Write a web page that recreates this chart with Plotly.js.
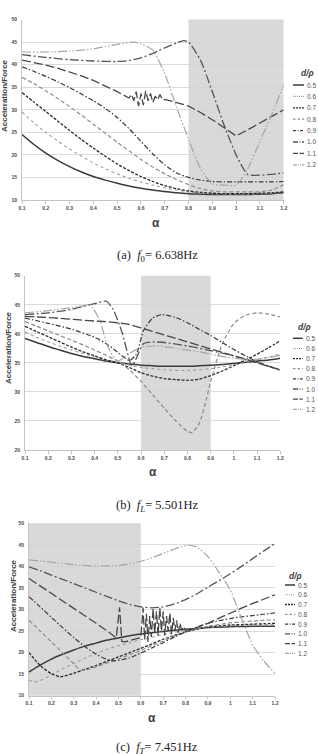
<!DOCTYPE html>
<html>
<head>
<meta charset="utf-8">
<script src="https://cdn.plot.ly/plotly-3.0.1.min.js"></script>
<style>
  html, body { margin: 0; padding: 0; background: #fff; }
  #chart { width: 318px; height: 755px; }
</style>
</head>
<body>
<div id="chart"></div>
<script>
// ---- common alpha grid (step 0.05) ----
const GRID = [0.1,0.15,0.2,0.25,0.3,0.35,0.4,0.45,0.5,0.55,0.6,0.65,0.7,0.75,0.8,0.85,0.9,0.95,1.0,1.05,1.1,1.15,1.2];

const RATIOS = ['0.5','0.6','0.7','0.8','0.9','1.0','1.1','1.2'];
const X_TICKS = [0.1,0.2,0.3,0.4,0.5,0.6,0.7,0.8,0.9,1.0,1.1,1.2];
const X_TICK_TEXT = ['0.1','0.2','0.3','0.4','0.5','0.6','0.7','0.8','0.9','1','1.1','1.2'];

// ---- (a) f0 = 6.638 Hz ----
const A05 = [24.5,22.3,20.4,18.8,17.4,16.2,15.2,14.4,13.7,13.1,12.6,12.2,11.9,11.6,11.4,11.3,11.2,11.2,11.2,11.2,11.3,11.4,11.6];
const A06 = [29.5,27.1,25.0,23.1,21.3,19.7,18.2,16.9,15.8,14.8,14.0,13.3,12.7,12.2,11.8,11.5,11.4,11.3,11.3,11.3,11.4,11.5,11.7];
const A07 = [33.8,31.7,29.6,27.5,25.4,23.4,21.5,19.7,18.0,16.5,15.2,14.1,13.2,12.5,12.0,11.7,11.5,11.4,11.4,11.4,11.5,11.6,11.8];
const A08 = [37.2,35.8,34.2,32.5,30.7,28.8,26.8,24.8,22.8,20.9,19.0,17.3,15.8,14.5,13.4,12.5,12.0,11.8,11.8,11.8,11.8,12.2,13.4];
const A09 = [39.5,38.5,37.4,36.2,34.9,33.5,32.0,30.3,28.3,25.8,23.0,20.2,17.8,16.0,15.0,14.4,14.1,14.0,14.0,14.0,14.0,14.0,14.1];
const A10_X = [0.1,0.2,0.3,0.4,0.5,0.55,0.6,0.65,0.7,0.75,0.78,0.8,0.85,0.9,0.95,1.0,1.03,1.05,1.1,1.15,1.2];
const A10 = [42.2,41.6,41.1,40.8,40.7,40.9,41.5,42.5,43.7,44.8,45.3,45.0,41.0,34.0,26.5,20.0,17.0,15.6,15.5,15.7,16.0];
const A11_X = [0.1,0.15,0.2,0.25,0.3,0.35,0.4,0.45,0.5,0.55,0.56,0.57,0.58,0.59,0.6,0.61,0.62,0.63,0.64,0.65,0.66,0.67,0.68,0.69,0.7,0.75,0.8,0.85,0.9,0.95,1.0,1.05,1.1,1.15,1.2];
const A11 = [41.0,40.5,39.9,39.2,38.4,37.5,36.5,35.3,34.0,32.6,33.4,32.0,34.0,30.8,33.6,31.0,34.2,32.0,33.6,31.6,33.0,32.2,33.4,32.2,32.3,31.6,30.8,29.4,27.8,26.0,24.2,25.6,27.1,28.6,30.0];
const A12_X = [0.1,0.2,0.3,0.4,0.45,0.5,0.57,0.6,0.65,0.7,0.75,0.8,0.85,0.9,0.95,1.0,1.05,1.1,1.15,1.2];
const A12 = [42.8,42.8,43.0,43.5,44.0,44.5,45.0,44.6,43.2,38.0,30.5,23.5,17.0,13.6,13.3,13.3,17.0,23.0,29.0,35.5];
const SHADE_A = [0.8, 1.2];

// ---- (b) fL = 5.501 Hz ----
const B05 = [39.2,38.5,37.8,37.2,36.6,36.1,35.7,35.3,35.0,34.8,34.6,34.5,34.4,34.4,34.4,34.5,34.6,34.7,34.9,35.1,35.3,35.5,35.8];
const B06 = [40.3,39.4,38.6,37.9,37.2,36.6,36.0,35.5,35.1,34.6,34.2,34.0,33.8,33.7,33.7,33.8,34.0,34.3,34.7,35.1,35.6,36.0,36.5];
const B07 = [41.3,40.4,39.5,38.6,37.7,36.9,36.2,35.5,35.0,34.2,33.3,32.7,32.3,32.1,32.0,32.2,32.8,33.6,34.5,35.5,36.5,37.6,38.8];
const B08_X = [0.1,0.15,0.2,0.25,0.3,0.35,0.4,0.45,0.5,0.55,0.6,0.65,0.7,0.75,0.8,0.82,0.85,0.88,0.9,0.95,1.0,1.05,1.1,1.15,1.2];
const B08 = [42.1,41.3,40.5,39.7,38.9,38.1,37.2,36.3,35.3,33.8,31.8,29.5,27.2,25.0,23.2,23.0,24.5,28.5,31.8,38.3,41.8,43.2,43.6,43.4,42.9];
const B09_X = [0.1,0.2,0.3,0.4,0.45,0.5,0.55,0.58,0.61,0.65,0.69,0.75,0.8,0.85,0.9,0.95,1.0,1.05,1.1,1.15,1.2];
const B09 = [42.7,41.8,40.8,39.4,38.3,36.8,35.4,36.5,40.5,42.7,43.3,42.8,41.9,40.8,39.7,38.5,37.3,36.2,35.2,34.4,33.8];
const B10_X = [0.1,0.2,0.3,0.35,0.4,0.45,0.48,0.52,0.56,0.58,0.61,0.65,0.7,0.8,0.9,1.0,1.1,1.2];
const B10 = [43.3,43.6,44.2,44.7,45.2,45.6,44.2,40.0,34.5,35.8,38.3,38.6,38.5,37.9,37.1,36.2,35.1,33.7];
const B11 = [43.0,42.9,42.8,42.65,42.5,42.35,42.2,42.1,41.9,41.6,41.0,40.4,39.8,39.2,38.6,38.0,37.4,36.8,36.2,35.6,35.0,34.4,33.8];
const B12_X = [0.1,0.2,0.3,0.35,0.38,0.42,0.46,0.5,0.55,0.6,0.65,0.7,0.75,0.8,0.85,0.9,0.95,1.0,1.05,1.1,1.15,1.2];
const B12 = [43.6,44.0,44.5,44.8,45.0,42.5,37.5,35.3,36.6,37.7,37.9,37.8,37.5,37.2,36.9,36.5,36.1,35.8,35.6,35.6,35.9,36.3];
const SHADE_B = [0.6, 0.9];

// ---- (c) fT = 7.451 Hz ----
const C05 = [15.5,17.1,18.5,19.6,20.6,21.5,22.2,22.9,23.4,23.9,24.3,24.6,24.9,25.2,25.4,25.6,25.8,25.9,26.0,26.05,26.1,26.1,26.1];
const C06_X = [0.1,0.125,0.15,0.2,0.25,0.3,0.35,0.4,0.45,0.5,0.55,0.6,0.65,0.7,0.75,0.8,0.85,0.9,0.95,1.0,1.05,1.1,1.15,1.2];
const C06 = [13.6,13.2,13.5,14.8,16.2,17.5,18.7,19.8,20.8,21.6,22.3,23.0,23.6,24.2,24.7,25.2,25.5,25.8,26.0,26.2,26.3,26.4,26.5,26.5];
const C07_X = [0.1,0.15,0.2,0.24,0.3,0.35,0.4,0.45,0.5,0.55,0.6,0.65,0.7,0.75,0.8,0.85,0.9,0.95,1.0,1.05,1.1,1.15,1.2];
const C07 = [20.0,17.0,15.1,14.4,15.2,16.1,17.0,18.0,19.0,20.0,21.0,22.0,23.1,24.0,24.8,25.4,25.9,26.2,26.4,26.5,26.6,26.7,26.8];
const C08_X = [0.1,0.15,0.2,0.25,0.3,0.33,0.37,0.4,0.45,0.5,0.55,0.6,0.65,0.7,0.75,0.8,0.85,0.9,0.95,1.0,1.05,1.1,1.15,1.2];
const C08 = [27.5,25.0,22.5,20.0,17.4,15.9,16.2,16.7,17.6,18.5,19.5,20.5,21.6,22.7,23.8,24.8,25.5,26.1,26.5,26.9,27.1,27.3,27.5,27.6];
const C09_X = [0.1,0.15,0.2,0.25,0.3,0.35,0.4,0.45,0.48,0.52,0.55,0.6,0.65,0.7,0.75,0.8,0.85,0.9,0.95,1.0,1.05,1.1,1.15,1.2];
const C09 = [33.0,30.6,28.2,25.8,23.5,21.4,19.6,18.4,18.1,18.4,18.8,19.9,21.1,22.3,23.6,24.8,25.9,26.8,27.4,27.9,28.3,28.6,28.9,29.2];
const C10 = [39.9,39.0,38.0,37.0,36.0,35.0,34.0,33.0,32.0,31.2,30.6,30.4,30.6,31.3,32.3,33.6,35.2,36.7,38.3,40.0,41.8,43.6,45.3];
const C11_X = [0.1,0.15,0.2,0.25,0.3,0.35,0.4,0.45,0.49,0.505,0.515,0.53,0.55,0.6,0.61,0.617,0.625,0.632,0.64,0.647,0.655,0.662,0.67,0.677,0.685,0.692,0.7,0.707,0.715,0.722,0.73,0.737,0.745,0.752,0.76,0.767,0.775,0.782,0.79,0.8,0.85,0.9,0.95,1.0,1.05,1.1,1.15,1.2];
const C11 = [37.2,35.5,33.8,32.1,30.4,28.6,26.8,25.0,23.4,30.5,22.6,22.5,22.8,23.5,30.4,23.0,29.0,22.5,28.5,23.6,30.2,24.5,29.6,24.0,30.4,25.0,29.5,24.0,28.5,25.0,29.2,24.2,28.0,25.0,27.5,24.6,26.8,25.2,26.0,25.2,25.8,26.8,28.0,29.2,30.3,31.4,32.4,33.4];
const C12_X = [0.1,0.2,0.3,0.4,0.5,0.55,0.6,0.65,0.7,0.75,0.81,0.85,0.9,0.95,1.0,1.05,1.1,1.15,1.2];
const C12 = [41.5,41.0,40.4,40.1,40.2,40.6,41.2,42.0,43.0,44.0,44.9,44.5,42.3,38.6,34.5,28.0,21.8,18.0,15.2];
const SHADE_C = [0.1, 0.6];

// ---- line styles per d/p ratio (plot dash, compact dash for the key) ----
const STYLE = {
  '0.5': {color: '#3a3a3a', width: 1.5, dash: 'solid', key: 'solid'},
  '0.6': {color: '#9c9c9c', width: 1.1, dash: 'dot', key: '1px,1px'},
  '0.7': {color: '#2c2c2c', width: 1.3, dash: '3px,1.5px', key: '2px,1px'},
  '0.8': {color: '#8c8c8c', width: 1.2, dash: '4px,2.5px', key: '2.5px,2px'},
  '0.9': {color: '#3a3a3a', width: 1.2, dash: '5px,2px,1.5px,2px', key: '3px,1.5px,1px,1.5px'},
  '1.0': {color: '#555555', width: 1.3, dash: '9px,2.5px,2px,2.5px', key: '5px,1.5px,1px,1.5px'},
  '1.1': {color: '#474747', width: 1.3, dash: '9px,3px', key: '5px,1.5px'},
  '1.2': {color: '#a6a6a6', width: 1.2, dash: '9px,2px,1.5px,2px,1.5px,2px', key: '4px,1px,1px,1px,1px,1px'}
};

const W = 318, H = 755;
const px = v => v / W;
const py = v => 1 - v / H;

const panels = [
  {ax: '', xs: [GRID, GRID, GRID, GRID, GRID, A10_X, A11_X, A12_X], ys: [A05, A06, A07, A08, A09, A10, A11, A12], noisy: ['1.1'],
   xdom: [22, 283.7], ydom: [19.5, 200], yr: [10, 50], shade: SHADE_A,
   leg: {title: [307, 72.7], x0: 293, x1: 304, lx: 305, y0: 85, dy: 11.4},
   ytitle: [4.5, 95.5], xtitle: [156, 222.7], cap: [157, 256, '(a)  <i>f</i><sub>0</sub>= 6.638Hz']},
  {ax: '2', xs: [GRID, GRID, GRID, B08_X, B09_X, B10_X, GRID, B12_X], ys: [B05, B06, B07, B08, B09, B10, B11, B12], noisy: [],
   xdom: [25, 280.3], ydom: [275.7, 450], yr: [20, 50], shade: SHADE_B,
   leg: {title: [304, 327.3], x0: 293, x1: 302.7, lx: 303.5, y0: 338.3, dy: 10.14},
   ytitle: [8, 348], xtitle: [153, 472], cap: [157, 506, '(b)  <i>f</i><sub><i>L</i></sub>= 5.501Hz']},
  {ax: '3', xs: [GRID, C06_X, C07_X, C08_X, C09_X, GRID, C11_X, C12_X], ys: [C05, C06, C07, C08, C09, C10, C11, C12], noisy: ['1.1'],
   xdom: [29, 275], ydom: [523.3, 695.7], yr: [10, 50], shade: SHADE_C,
   leg: {title: [295, 576], x0: 285, x1: 295, lx: 296, y0: 585, dy: 9.76},
   ytitle: [13, 596], xtitle: [151.7, 718], cap: [157, 748, '(c)  <i>f</i><sub><i>T</i></sub>= 7.451Hz']}
];

const traces = [];
const shapes = [];
const annotations = [];
const layout = {
  width: W, height: H,
  margin: {l: 0, r: 0, t: 0, b: 0},
  paper_bgcolor: '#ffffff', plot_bgcolor: '#ffffff',
  showlegend: false, hovermode: false,
  font: {family: 'Liberation Sans, Arial, sans-serif', color: '#404040'}
};

const tickFont = {family: 'Liberation Sans, Arial, sans-serif', size: 5, color: '#4a4a4a', weight: 'bold'};

panels.forEach(p => {
  const xa = 'x' + p.ax, ya = 'y' + p.ax;
  RATIOS.forEach((r, i) => {
    const st = STYLE[r];
    const noisy = p.noisy.indexOf(r) >= 0;
    traces.push({
      type: 'scatter', mode: 'lines', name: r,
      x: p.xs[i], y: p.ys[i], xaxis: xa, yaxis: ya,
      line: {color: st.color, width: st.width, dash: st.dash,
             shape: noisy ? 'linear' : 'spline', smoothing: 0.6}
    });
    // key sample + label
    const ly = py(p.leg.y0 + i * p.leg.dy);
    shapes.push({type: 'line', xref: 'paper', yref: 'paper',
      x0: px(p.leg.x0), x1: px(p.leg.x1), y0: ly, y1: ly,
      line: {color: st.color, width: st.width, dash: st.key}});
    annotations.push({xref: 'paper', yref: 'paper', x: px(p.leg.lx), y: ly,
      xanchor: 'left', yanchor: 'middle', showarrow: false, text: r,
      font: {size: 6.5, color: '#555555'}});
  });
  annotations.push({xref: 'paper', yref: 'paper', x: px(p.leg.title[0]), y: py(p.leg.title[1]),
    xanchor: 'center', yanchor: 'middle', showarrow: false, text: '<b><i>d/ρ</i></b>',
    font: {size: 8.5, color: '#404040'}});

  layout['xaxis' + p.ax] = {
    domain: [px(p.xdom[0]), px(p.xdom[1])], anchor: ya,
    range: [0.1, 1.2], tickvals: X_TICKS, ticktext: X_TICK_TEXT,
    showgrid: false, zeroline: false, showline: true, linecolor: '#c4c4c4', linewidth: 1,
    ticks: 'outside', ticklen: 2.5, tickcolor: '#c4c4c4', tickfont: tickFont, fixedrange: true
  };
  layout['yaxis' + p.ax] = {
    domain: [py(p.ydom[1]), py(p.ydom[0])], anchor: xa,
    range: p.yr, dtick: 5, tick0: 0,
    showgrid: true, gridcolor: '#d2d2d2', gridwidth: 0.8, zeroline: false,
    showline: true, linecolor: '#c4c4c4', linewidth: 1,
    ticks: 'outside', ticklen: 3, tickcolor: 'rgba(0,0,0,0)', tickfont: tickFont, fixedrange: true
  };
  shapes.push({type: 'rect', xref: xa, yref: ya + ' domain', layer: 'below',
    x0: p.shade[0], x1: p.shade[1], y0: 0, y1: 1,
    fillcolor: '#d9d9d9', line: {width: 0}});

  annotations.push({xref: 'paper', yref: 'paper', x: px(p.ytitle[0]), y: py(p.ytitle[1]),
    xanchor: 'center', yanchor: 'middle', showarrow: false, textangle: -90,
    text: '<b>Acceleration/Force</b>', font: {size: 8, color: '#404040'}});
  annotations.push({xref: 'paper', yref: 'paper', x: px(p.xtitle[0]), y: py(p.xtitle[1]),
    xanchor: 'center', yanchor: 'middle', showarrow: false,
    text: '<b>α</b>', font: {size: 12, color: '#404040'}});
  annotations.push({xref: 'paper', yref: 'paper', x: px(p.cap[0]), y: py(p.cap[1]),
    xanchor: 'center', yanchor: 'middle', showarrow: false,
    text: p.cap[2], font: {family: 'Liberation Serif, Times New Roman, serif', size: 12.5, color: '#222222'}});
});

layout.shapes = shapes;
layout.annotations = annotations;

Plotly.newPlot('chart', traces, layout, {staticPlot: true, displayModeBar: false});
</script>
</body>
</html>
